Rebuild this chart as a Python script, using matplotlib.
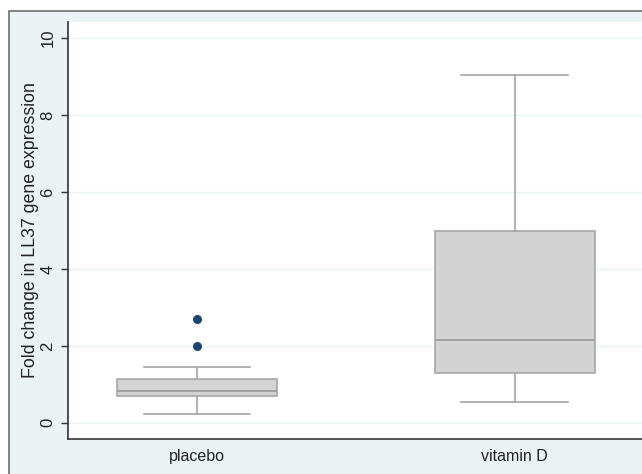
import matplotlib
matplotlib.use("Agg")
import matplotlib.pyplot as plt
from matplotlib.patches import Rectangle

plt.rcParams['font.family'] = ['Liberation Sans', 'DejaVu Sans']

# Box plot summaries
groups = ['placebo', 'vitamin D']
whisker_low = [0.23, 0.54]
q1 = [0.69, 1.29]
median = [0.84, 2.15]
q3 = [1.145, 5.00]
whisker_high = [1.46, 9.03]
outliers = [[2.01, 2.71], []]
yticks = [0, 2, 4, 6, 8, 10]

fig = plt.figure(figsize=(6.42, 4.74), dpi=100, facecolor='white')

# outer Stata-like frame
frame = Rectangle((9 / 642, -0.1), 1.2, (474 - 11) / 474 + 0.1,
                  transform=fig.transFigure, facecolor='#EAF2F3',
                  edgecolor='#6E6E6E', linewidth=1.2, zorder=-10)
fig.patches.append(frame)

ax = fig.add_axes([68 / 642, 35 / 474, 1 - 68 / 642, (439 - 22) / 474])
ax.set_facecolor('white')

stats = []
for i, g in enumerate(groups):
    stats.append(dict(label=g, whislo=whisker_low[i], q1=q1[i], med=median[i],
                      q3=q3[i], whishi=whisker_high[i], fliers=outliers[i]))

ax.bxp(stats, positions=[1, 2], widths=0.503, patch_artist=True,
       showfliers=True, capwidths=0.336,
       boxprops=dict(facecolor='#D3D3D3', edgecolor='#A6A6A6', linewidth=1.2),
       medianprops=dict(color='#A0A0A0', linewidth=1.4),
       whiskerprops=dict(color='#A6A6A6', linewidth=1.2),
       capprops=dict(color='#A6A6A6', linewidth=1.2),
       flierprops=dict(marker='o', markerfacecolor='#1A476F',
                       markeredgecolor='#1A476F', markersize=5.5))

ax.set_xlim(0.594, 2.40)
ax.set_ylim(-0.42, 10.42)
ax.set_yticks(yticks)
ax.set_yticklabels([str(t) for t in yticks], rotation=90, va='center',
                   fontsize=12, color='#222222')
ax.yaxis.grid(True, color='#EAF2F3', linewidth=1.0)
ax.set_axisbelow(True)
ax.tick_params(axis='y', length=5, color='#333333', width=1.0, pad=4)
ax.tick_params(axis='x', length=0, labelsize=11.5, labelcolor='#222222', pad=7)
ax.set_ylabel('Fold change in LL37 gene expression', fontsize=12.8,
              color='#222222', labelpad=1)

for side in ['top', 'right']:
    ax.spines[side].set_visible(False)
for side in ['left', 'bottom']:
    ax.spines[side].set_color('#333333')
    ax.spines[side].set_linewidth(1.2)

fig.savefig('out.png', dpi=100, facecolor=fig.get_facecolor())
